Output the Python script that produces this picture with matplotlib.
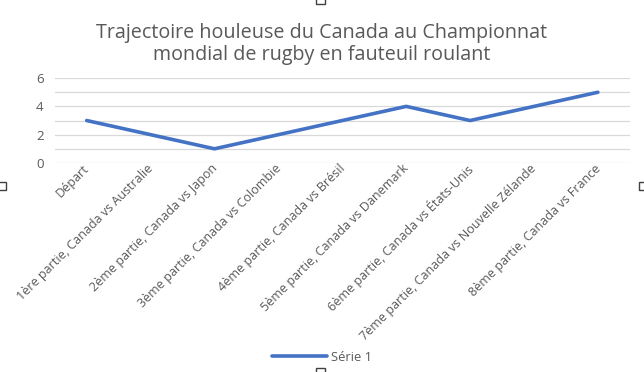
import matplotlib
matplotlib.use("Agg")
import matplotlib.pyplot as plt
import matplotlib.transforms as mtrans
from matplotlib.patches import Rectangle

# données du graphique
categories = ["Départ",
              "1ère partie, Canada vs Australie",
              "2ème partie, Canada vs Japon",
              "3ème partie, Canada vs Colombie",
              "4ème partie, Canada vs Brésil",
              "5ème partie, Canada vs Danemark",
              "6ème partie, Canada vs États-Unis",
              "7ème partie, Canada vs Nouvelle Zélande",
              "8ème partie, Canada vs France"]
serie1 = [3, 2, 1, 2, 3, 4, 3, 4, 5]
yticks = [0, 2, 4, 6]

plt.rcParams['font.family'] = ['Open Sans', 'DejaVu Sans']
txt = '#595959'

fig = plt.figure(figsize=(6.44, 3.72), dpi=100)
ax = fig.add_axes([0.085, 0.562, 0.893, 0.228])

x = list(range(len(categories)))
ax.plot(x, serie1, color='#4472C4', lw=2.6, solid_capstyle='round',
        solid_joinstyle='round', label='Série 1', zorder=3)

ax.set_xlim(-0.5, len(categories) - 0.5)
ax.set_ylim(0, 6)
for g in range(0, 7):
    ax.axhline(g, color='#D9D9D9', lw=0.9, zorder=1)
ax.set_yticks(yticks)
ax.set_yticklabels([str(v) for v in yticks], fontsize=9.5, color=txt)
ax.set_xticks(x)
ax.set_xticklabels(categories, rotation=45, ha='right', va='top',
                   rotation_mode='anchor', fontsize=9, color=txt)
ax.tick_params(axis='x', length=0, pad=0)
ax.tick_params(axis='y', length=0, pad=8)
# rapprocher les étiquettes du point de catégorie
shift = mtrans.ScaledTranslation(-4 / 100, 1 / 100, fig.dpi_scale_trans)
for lab in ax.get_xticklabels():
    lab.set_transform(lab.get_transform() + shift)
for s in ax.spines.values():
    s.set_visible(False)

fig.text(0.5, 0.882, "Trajectoire houleuse du Canada au Championnat\nmondial de rugby en fauteuil roulant",
         ha='center', va='center', fontsize=14.2, color=txt, linespacing=1.15)

fig.legend(loc='center', bbox_to_anchor=(0.5, 0.04), frameon=False,
           fontsize=9.3, labelcolor=txt, handlelength=4.2, handletextpad=0.3)

# poignées de sélection du graphique
for hx, hy in [(-0.004, 0.49), (0.992, 0.49), (0.49, 0.99), (0.49, -0.01)]:
    fig.add_artist(Rectangle((hx, hy), 0.014, 0.022, transform=fig.transFigure,
                             fill=False, ec='#404040', lw=1.0))

fig.savefig("out.png", dpi=100)
